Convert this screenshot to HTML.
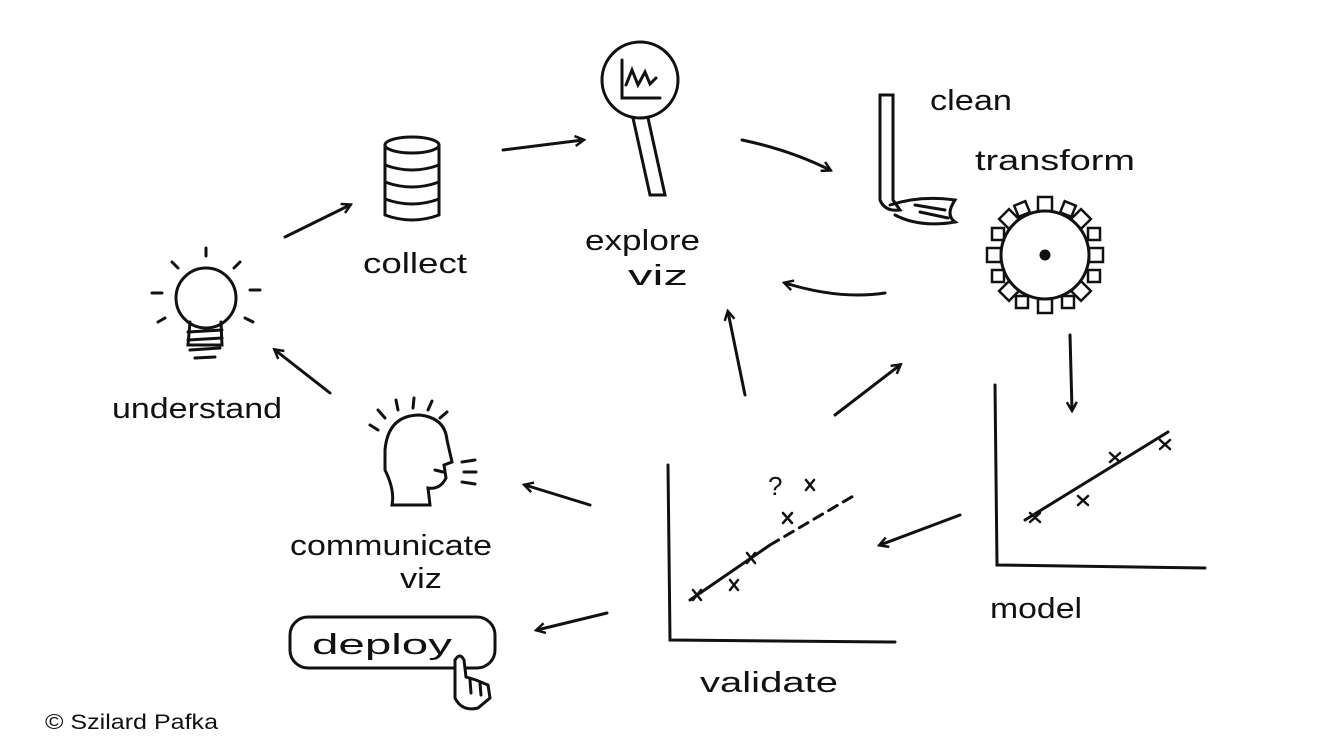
<!DOCTYPE html>
<html><head><meta charset="utf-8"><style>
html,body{margin:0;padding:0;background:#fff;}
svg{display:block;}
.t{font-family:"Liberation Sans",sans-serif;font-size:29px;fill:#111;}
</style></head><body>
<svg width="1334" height="752" viewBox="0 0 1334 752" xmlns="http://www.w3.org/2000/svg">
<defs><marker id="a" markerWidth="12" markerHeight="12" refX="9" refY="6" orient="auto" markerUnits="userSpaceOnUse"><path d="M1,1 L10,6 L1,11" fill="none" stroke="#111" stroke-width="2.5"/></marker></defs>
<g fill="none" stroke="#111" stroke-width="3" stroke-linecap="round">
<circle cx="206" cy="298" r="30"/>
<path d="M190,322 L188,345 L222,345 L221,322"/>
<path d="M188,332 L222,330 M188,340 L222,338 M190,350 L220,348 M195,358 L215,357"/>
<path d="M206,248 L206,256 M172,262 L178,268 M240,262 L234,268 M152,293 L162,293 M250,290 L260,290 M245,318 L253,322 M165,318 L158,322"/>
<path d="M285,237 L350,205" marker-end="url(#a)"/>
<path d="M503,150 L583,140" marker-end="url(#a)"/>
<path d="M742,140 Q790,150 830,170" marker-end="url(#a)"/>
<path d="M885,293 Q840,300 785,283" marker-end="url(#a)"/>
<path d="M745,395 L728,312" marker-end="url(#a)"/>
<path d="M835,415 L900,365" marker-end="url(#a)"/>
<path d="M1070,335 L1072,410" marker-end="url(#a)"/>
<path d="M960,515 L880,545" marker-end="url(#a)"/>
<path d="M590,505 L525,485" marker-end="url(#a)"/>
<path d="M607,613 L537,630" marker-end="url(#a)"/>
<path d="M330,393 L275,350" marker-end="url(#a)"/>
<ellipse cx="412" cy="145" rx="27" ry="8"/>
<path d="M385,145 L385,215 Q412,225 439,215 L439,145"/>
<path d="M385,165 Q412,175 439,165 M385,182 Q412,192 439,182 M385,199 Q412,209 439,199"/>
<circle cx="640" cy="80" r="38"/>
<path d="M622,60 L622,98 L660,98 M626,85 L632,70 L638,85 L645,72 L650,84 L656,78"/>
<path d="M633,118 L650,195 L665,195 L648,118"/>
<path d="M880,95 L880,200 Q885,212 900,210 L893,200 L893,95 Z"/>
<path d="M890,205 Q920,195 955,200 Q945,215 955,222 Q920,228 895,215"/>
<path d="M915,205 L945,210 M920,212 L948,218"/>
<circle cx="1045" cy="255" r="44"/>
<circle cx="1045" cy="255" r="4" fill="#111"/>
<g stroke-width="2.5">
<rect x="1038" y="197" width="14" height="14"/><rect x="1038" y="299" width="14" height="14"/>
<rect x="987" y="248" width="14" height="14"/><rect x="1089" y="248" width="14" height="14"/>
<rect x="1002" y="212" width="14" height="14" transform="rotate(-45 1009 219)"/>
<rect x="1074" y="212" width="14" height="14" transform="rotate(45 1081 219)"/>
<rect x="1002" y="284" width="14" height="14" transform="rotate(45 1009 291)"/>
<rect x="1074" y="284" width="14" height="14" transform="rotate(-45 1081 291)"/>
<rect x="1016" y="203" width="12" height="12" transform="rotate(-22 1022 209)"/>
<rect x="1062" y="203" width="12" height="12" transform="rotate(22 1068 209)"/>
<rect x="992" y="228" width="12" height="12"/><rect x="1088" y="228" width="12" height="12"/>
<rect x="992" y="270" width="12" height="12"/><rect x="1088" y="270" width="12" height="12"/>
<rect x="1016" y="296" width="12" height="12"/><rect x="1062" y="296" width="12" height="12"/>
</g>
<path d="M995,385 L997,565 L1205,568"/>
<path d="M1025,520 L1168,432"/>
<path d="M1030,513 L1040,522 M1040,513 L1030,522 M1078,496 L1088,505 M1088,496 L1078,505 M1110,453 L1120,462 M1120,453 L1110,462 M1160,440 L1170,449 M1170,440 L1160,449" stroke-width="2.5"/>
<path d="M668,465 L670,640 L895,642"/>
<path d="M690,600 L770,545"/>
<path d="M770,545 L855,495" stroke-dasharray="10,7"/>
<path d="M693,590 L701,600 M701,590 L693,600 M730,580 L738,590 M738,580 L730,590 M747,553 L755,563 M755,553 L747,563 M783,513 L792,523 M792,513 L783,523 M806,480 L814,490 M814,480 L806,490" stroke-width="2.5"/>
<path d="M385,450 Q388,415 420,415 Q445,418 447,440 L452,462 L444,465 L446,478 Q440,490 428,488 L430,505 L392,505 Q395,490 385,470 Z"/>
<path d="M435,470 L443,472" />
<path d="M378,430 L370,425 M385,418 L378,410 M398,410 L396,400 M413,408 L414,398 M428,410 L432,401 M440,418 L447,412"/>
<path d="M462,462 L475,460 M464,472 L476,472 M462,482 L475,484"/>
<rect x="290" y="617" width="205" height="51" rx="18"/>
<path d="M455,660 L455,698 Q462,712 478,708 L490,698 L488,685 L476,680 L466,677 L464,660 Q460,652 455,660 Z" fill="#fff"/>
<path d="M470,680 L471,693 M480,683 L481,695"/>
</g>
<text class="t" x="112" y="418" textLength="170" lengthAdjust="spacingAndGlyphs">understand</text>
<text class="t" x="363" y="273" textLength="104" lengthAdjust="spacingAndGlyphs">collect</text>
<text class="t" x="585" y="250" textLength="115" lengthAdjust="spacingAndGlyphs">explore</text>
<text class="t" x="628" y="285" textLength="60" lengthAdjust="spacingAndGlyphs">viz</text>
<text class="t" x="930" y="110" textLength="82" lengthAdjust="spacingAndGlyphs">clean</text>
<text class="t" x="975" y="170" textLength="160" lengthAdjust="spacingAndGlyphs">transform</text>
<text class="t" x="990" y="618" textLength="92" lengthAdjust="spacingAndGlyphs">model</text>
<text class="t" x="700" y="692" textLength="138" lengthAdjust="spacingAndGlyphs">validate</text>
<text class="t" x="290" y="555" textLength="202" lengthAdjust="spacingAndGlyphs">communicate</text>
<text class="t" x="400" y="588" textLength="42" lengthAdjust="spacingAndGlyphs">viz</text>
<text class="t" x="312" y="654" textLength="140" lengthAdjust="spacingAndGlyphs">deploy</text>
<text class="t" x="768" y="495" style="font-size:26px">?</text>
<text x="45" y="729" textLength="173" lengthAdjust="spacingAndGlyphs" style="font-family:'Liberation Sans',sans-serif;font-size:21px;fill:#111">© Szilard Pafka</text>
</svg>
</body></html>
